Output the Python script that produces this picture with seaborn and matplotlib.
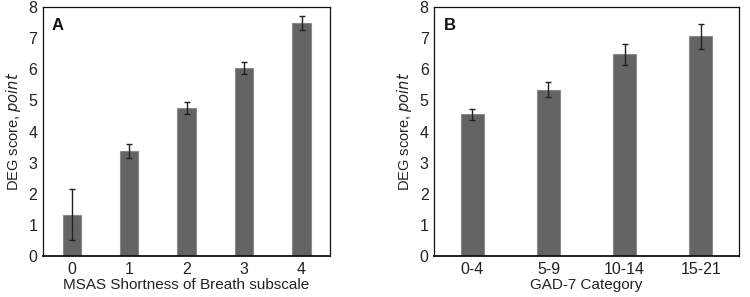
import matplotlib
matplotlib.use("Agg")
import matplotlib.pyplot as plt
import seaborn as sns
import pandas as pd

sns.set_theme(style="white")
plt.rcParams['font.family'] = ['Liberation Sans', 'DejaVu Sans']

cats_a = ["0", "1", "2", "3", "4"]
vals_a = [1.33, 3.37, 4.75, 6.05, 7.50]
errs_a = [0.82, 0.22, 0.19, 0.19, 0.22]

cats_b = ["0-4", "5-9", "10-14", "15-21"]
vals_b = [4.55, 5.35, 6.48, 7.06]
errs_b = [0.19, 0.23, 0.33, 0.39]

fig = plt.figure(figsize=(7.5, 2.97), dpi=100)
ax_a = fig.add_axes([0.0573, 0.138, 0.383, 0.838])
ax_b = fig.add_axes([0.579, 0.138, 0.406, 0.838])

def panel(ax, cats, vals, errs, width, xlabel, letter):
    df = pd.DataFrame({"cat": cats, "val": vals})
    sns.barplot(data=df, x="cat", y="val", ax=ax, color="#646464",
                saturation=1, width=width, edgecolor="#8a8a8a", linewidth=0.8)
    ax.errorbar(range(len(cats)), vals, yerr=errs, fmt="none",
                ecolor="#222222", elinewidth=1.0, capsize=2, capthick=1.0)
    ax.set_ylim(0, 8)
    ax.set_xlim(-0.5, len(cats) - 0.5)
    ax.set_yticks(range(0, 9))
    ax.tick_params(axis="both", length=0, labelsize=11.5, colors="#222222", pad=4)
    ax.set_xlabel(xlabel, fontsize=11, labelpad=1, color="#222222")
    ax.set_ylabel("DEG score, $\\it{point}$", fontsize=10.5, labelpad=4, color="#222222")
    for s in ax.spines.values():
        s.set_visible(True)
        s.set_color("#111111")
        s.set_linewidth(0.9)
    ax.spines["bottom"].set_linewidth(1.3)
    ax.text(0.03, 0.955, letter, transform=ax.transAxes, fontsize=12,
            fontweight="bold", va="top", ha="left", color="#111111")

panel(ax_a, cats_a, vals_a, errs_a, 0.32, "MSAS Shortness of Breath subscale", "A")
panel(ax_b, cats_b, vals_b, errs_b, 0.30, "GAD-7 Category", "B")

fig.savefig("out.png", dpi=100, facecolor="white")
